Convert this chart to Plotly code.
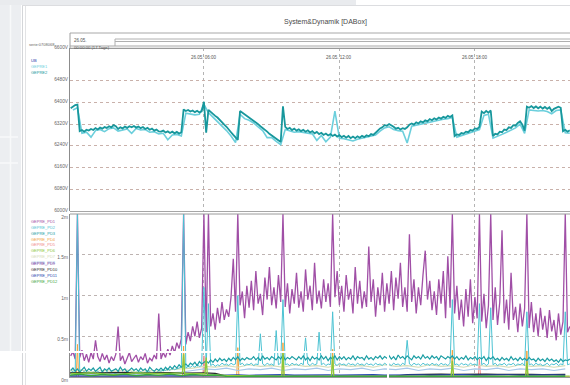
import numpy as np
import pandas as pd
import plotly.graph_objects as go

DAY = "2009-05-26"

# ---------------- data ----------------
# dense logger series sampled every 0.1 h starting 00:06
gepre2_v = [
    6378, 6384, 6390, 6392, 6294, 6298, 6292, 6299, 6296, 6302,
    6298, 6305, 6300, 6307, 6303, 6309, 6306, 6312, 6308, 6316,
    6312, 6302, 6308, 6304, 6311, 6306, 6312, 6308, 6313, 6307,
    6311, 6305, 6309, 6302, 6306, 6299, 6303, 6296, 6300, 6293,
    6292, 6296, 6289, 6293, 6287, 6292, 6286, 6291, 6285, 6290,
    6374, 6368, 6372, 6366, 6370, 6364, 6369, 6363, 6367, 6402,
    6288, 6372, 6364, 6358, 6350, 6344, 6334, 6328, 6318, 6310,
    6298, 6290, 6280, 6272, 6262, 6368, 6362, 6358, 6350, 6346,
    6338, 6334, 6326, 6320, 6312, 6306, 6298, 6292, 6284, 6278,
    6270, 6266, 6258, 6254, 6385, 6310, 6302, 6306, 6298, 6303,
    6296, 6301, 6294, 6299, 6292, 6297, 6289, 6294, 6286, 6291,
    6283, 6288, 6280, 6285, 6278, 6283, 6276, 6281, 6274, 6279,
    6272, 6277, 6270, 6276, 6268, 6274, 6268, 6275, 6270, 6277,
    6272, 6279, 6275, 6283, 6280, 6290, 6296, 6304, 6308, 6316,
    6314, 6320, 6316, 6310, 6303, 6306, 6300, 6305, 6302, 6308,
    6318, 6322, 6318, 6326, 6322, 6330, 6326, 6334, 6330, 6338,
    6334, 6341, 6337, 6344, 6340, 6347, 6343, 6350, 6346, 6352,
    6276, 6282, 6280, 6287, 6285, 6292, 6290, 6298, 6296, 6304,
    6302, 6310, 6366, 6360, 6368, 6362, 6370, 6276, 6284, 6282,
    6292, 6290, 6300, 6298, 6308, 6306, 6316, 6314, 6324, 6330,
    6318, 6296, 6384, 6380, 6386, 6379, 6385, 6378, 6384, 6377,
    6383, 6376, 6382, 6368, 6376, 6381, 6384, 6380, 6294, 6299,
    6292, 6297,
]

# sampled every 0.2 h
gepre1_v = [
    6372, 6380, 6286, 6290, 6272, 6296, 6300, 6292, 6303, 6306,
    6294, 6298, 6302, 6286, 6304, 6298, 6300, 6290, 6292, 6284,
    6286, 6262, 6280, 6282, 6276, 6360, 6358, 6354, 6356, 6392,
    6362, 6346, 6330, 6312, 6296, 6276, 6252, 6356, 6340, 6334,
    6324, 6310, 6296, 6270, 6270, 6256, 6244, 6300, 6294, 6290,
    6292, 6290, 6286, 6284, 6260, 6278, 6255, 6272, 6368, 6268,
    6266, 6262, 6258, 6264, 6268, 6270, 6274, 6280, 6294, 6306,
    6310, 6300, 6296, 6294, 6250, 6312, 6316, 6320, 6324, 6328,
    6332, 6335, 6338, 6340, 6344, 6272, 6278, 6284, 6290, 6296,
    6300, 6352, 6356, 6268, 6274, 6282, 6290, 6298, 6306, 6320,
    6286, 6372, 6370, 6368, 6370, 6366, 6358, 6370, 6372, 6288,
    6286,
]

# bottom panel, values in "m" units, every 0.1 h
pd1_v = [
    0.26, 0.31, 0.22, 2.0, 0.24, 0.33, 0.2, 0.28, 0.18, 0.3,
    0.22, 0.45, 0.25, 0.19, 0.29, 0.21, 0.27, 0.17, 0.25, 0.2,
    0.28, 0.62, 0.2, 0.26, 0.16, 0.24, 0.3, 0.19, 0.23, 0.27,
    0.18, 0.25, 0.21, 0.29, 0.17, 0.23, 0.2, 0.27, 0.22, 0.78,
    0.22, 0.3, 0.24, 0.34, 0.27, 0.38, 0.3, 0.42, 0.35, 0.47,
    2.0, 0.4, 0.55, 0.44, 0.62, 0.5, 0.68, 0.48, 0.6, 2.0,
    0.55, 2.0, 0.62, 0.78, 0.58, 0.85, 0.66, 0.92, 0.7, 0.83,
    0.74, 0.98, 1.45, 0.8, 2.0, 0.88, 1.05, 0.72, 1.12, 0.85,
    1.18, 0.82, 1.3, 0.9, 1.02, 0.76, 1.22, 0.95, 1.35, 0.88,
    1.1, 0.84, 1.25, 0.92, 2.0, 0.86, 1.15, 0.78, 1.08, 0.9,
    1.28, 0.85, 1.05, 0.8, 1.32, 0.95, 1.12, 0.82, 1.4, 0.9,
    1.06, 0.84, 1.2, 0.92, 1.15, 0.86, 2.0, 0.98, 1.3, 0.88,
    1.12, 0.8, 1.25, 0.95, 1.08, 0.78, 1.35, 0.9, 1.18, 0.84,
    1.05, 0.86, 1.6, 0.92, 1.2, 0.74, 1.1, 0.88, 1.28, 0.8,
    1.15, 0.9, 1.3, 0.82, 1.22, 0.96, 1.4, 0.86, 1.1, 0.8,
    1.75, 0.92, 1.2, 0.78, 1.1, 0.88, 1.25, 1.55, 0.95, 1.18,
    0.82, 1.05, 0.76, 1.2, 0.9, 1.3, 0.72, 1.48, 0.85, 2.0,
    0.78, 1.12, 0.7, 0.95, 0.62, 1.08, 0.74, 1.2, 0.66, 0.98,
    0.72, 2.0, 0.68, 1.02, 0.6, 0.88, 2.0, 0.7, 1.1, 0.64,
    0.92, 1.8, 0.66, 0.95, 0.58, 1.28, 0.7, 0.86, 0.55, 0.9,
    0.62, 0.84, 2.0, 0.6, 0.92, 0.55, 0.78, 0.5, 0.85, 0.58,
    0.75, 0.48, 0.82, 0.56, 0.7, 0.45, 0.78, 0.52, 0.68, 2.0,
    0.55, 0.62,
]

pd2_v = [
    0.05, 0.07, 0.04, 2.0, 0.06, 0.05, 0.07, 0.04, 0.06, 0.05,
    0.06, 0.04, 0.07, 0.05, 0.06, 0.04, 0.07, 0.05, 0.06, 0.05,
    0.04, 0.07, 0.05, 0.06, 0.04, 0.07, 0.05, 0.06, 0.04, 0.06,
    0.05, 0.07, 0.04, 0.06, 0.05, 0.07, 0.04, 0.06, 0.05, 0.08,
    0.07, 0.09, 0.08, 0.1, 0.08, 0.11, 0.09, 0.1, 0.11, 0.12,
    2.0, 0.11, 0.13, 0.12, 0.14, 0.12, 0.15, 0.13, 0.14, 1.1,
    0.13, 0.9, 0.14, 0.16, 0.13, 0.15, 0.14, 0.17, 0.15, 0.16,
    0.14, 0.17, 0.15, 0.16, 1.0, 0.15, 0.17, 0.14, 0.16, 0.15,
    0.17, 0.14, 0.16, 0.15, 0.53, 0.16, 0.14, 0.17, 0.15, 0.16,
    0.14, 0.57, 0.15, 0.17, 0.95, 0.15, 0.16, 0.14, 0.17, 0.15,
    0.16, 0.14, 0.17, 0.15, 0.48, 0.16, 0.14, 0.17, 0.15, 0.16,
    0.55, 0.15, 0.17, 0.14, 0.16, 0.15, 0.8, 0.16, 0.14, 0.17,
    0.15, 0.16, 0.14, 0.17, 0.15, 0.16, 0.14, 0.17, 0.15, 0.16,
    0.14, 0.17, 0.15, 0.16, 0.14, 0.17, 0.15, 0.16, 0.14, 0.17,
    0.15, 0.16, 0.14, 0.17, 0.15, 0.16, 0.14, 0.17, 0.15, 0.45,
    0.16, 0.14, 0.17, 0.15, 0.16, 0.14, 0.17, 0.15, 0.16, 0.14,
    0.17, 0.15, 0.16, 0.14, 0.17, 0.15, 0.16, 0.14, 0.17, 0.95,
    0.15, 0.16, 0.14, 0.17, 0.15, 0.16, 0.14, 0.17, 0.15, 0.16,
    0.14, 0.9, 0.15, 0.17, 0.14, 0.16, 0.85, 0.15, 0.17, 0.14,
    0.16, 0.15, 0.17, 0.14, 0.16, 0.15, 0.17, 0.14, 0.16, 0.15,
    0.17, 0.14, 0.8, 0.15, 0.16, 0.14, 0.17, 0.15, 0.16, 0.14,
    0.15, 0.17, 0.14, 0.16, 0.15, 0.17, 0.14, 0.16, 0.15, 0.8,
    0.15, 0.16,
]

pd3_v = [
    0.08, 0.11, 0.07, 0.1, 0.06, 0.09, 0.12, 0.07, 0.1, 0.08,
    0.11, 0.07, 0.09, 0.12, 0.06, 0.1, 0.08, 0.11, 0.07, 0.09,
    0.1, 0.07, 0.12, 0.08, 0.1, 0.06, 0.09, 0.11, 0.08, 0.1,
    0.07, 0.11, 0.08, 0.1, 0.06, 0.12, 0.09, 0.07, 0.1, 0.08,
    0.11, 0.08, 0.12, 0.09, 0.13, 0.1, 0.14, 0.11, 0.15, 0.12,
    0.14, 0.16, 0.13, 0.17, 0.15, 0.18, 0.14, 0.19, 0.16, 0.18,
    0.2, 0.17, 0.21, 0.18, 0.22, 0.19, 0.23, 0.2, 0.22, 0.19,
    0.23, 0.2, 0.24, 0.21, 0.25, 0.2, 0.23, 0.21, 0.24, 0.22,
    0.22, 0.25, 0.21, 0.24, 0.2, 0.26, 0.22, 0.24, 0.21, 0.25,
    0.23, 0.21, 0.25, 0.22, 0.27, 0.21, 0.24, 0.22, 0.25, 0.23,
    0.21, 0.25, 0.22, 0.26, 0.21, 0.24, 0.2, 0.25, 0.22, 0.24,
    0.21, 0.26, 0.22, 0.25, 0.2, 0.24, 0.22, 0.26, 0.21, 0.25,
    0.22, 0.25, 0.21, 0.24, 0.22, 0.26, 0.21, 0.25, 0.23, 0.24,
    0.21, 0.26, 0.22, 0.24, 0.21, 0.25, 0.23, 0.26, 0.22, 0.25,
    0.23, 0.26, 0.22, 0.25, 0.21, 0.27, 0.23, 0.25, 0.22, 0.26,
    0.24, 0.21, 0.26, 0.23, 0.25, 0.22, 0.27, 0.23, 0.25, 0.22,
    0.26, 0.23, 0.25, 0.21, 0.26, 0.24, 0.22, 0.25, 0.23, 0.26,
    0.22, 0.25, 0.21, 0.24, 0.22, 0.26, 0.21, 0.24, 0.22, 0.25,
    0.21, 0.24, 0.22, 0.25, 0.2, 0.24, 0.22, 0.25, 0.21, 0.23,
    0.2, 0.24, 0.21, 0.23, 0.2, 0.25, 0.21, 0.23, 0.2, 0.24,
    0.21, 0.23, 0.2, 0.24, 0.21, 0.22, 0.19, 0.23, 0.2, 0.22,
    0.19, 0.23, 0.2, 0.22, 0.19, 0.21, 0.18, 0.22, 0.19, 0.21,
    0.2, 0.22,
]

# sparse event series (hours, values)
pd4_t = [0.1, 0.35, 0.4, 0.45, 5.05, 5.1, 5.15, 7.45, 7.5, 7.55, 9.45, 9.5, 9.55,
         11.65, 11.7, 11.75, 16.95, 17.0, 17.05, 20.25, 20.3, 20.35, 22.2]
pd4_v = [0.0, 0.0, 0.4, 0.0, 0.0, 0.38, 0.0, 0.0, 0.36, 0.0, 0.0, 0.42, 0.0,
         0.0, 0.34, 0.0, 0.0, 0.33, 0.0, 0.0, 0.32, 0.0, 0.0]
pd5_t = [0.1, 5.95, 6.0, 6.05, 18.15, 18.2, 18.25, 22.2]
pd5_v = [0.0, 0.0, 0.26, 0.0, 0.0, 0.22, 0.0, 0.0]
pd6_t = [0.1, 1.0, 2.0, 3.0, 4.0, 5.0, 5.05, 5.1, 5.15, 6.0, 6.05, 6.1, 6.15, 7.0,
         9.45, 9.5, 9.55, 11.65, 11.7, 11.75, 14.0, 16.95, 17.0, 17.05, 20.25, 20.3, 20.35, 22.2]
pd6_v = [0.04, 0.05, 0.03, 0.05, 0.04, 0.05, 0.05, 0.28, 0.04, 0.04, 0.04, 0.24, 0.03, 0.02,
         0.01, 0.3, 0.01, 0.01, 0.26, 0.01, 0.01, 0.01, 0.2, 0.01, 0.01, 0.18, 0.01, 0.01]

# slow series sampled every 0.5 h from 00:00
pd7_v = [0.07, 0.09, 0.06, 0.08, 0.07, 0.09, 0.06, 0.08, 0.07, 0.09, 0.1,
         0.11, 0.13, 0.12, 0.14, 0.12, 0.15, 0.13, 0.14, 0.12, 0.15, 0.13, 0.14,
         0.12, 0.15, 0.13, 0.14, 0.12, 0.15, 0.13, 0.14, 0.12, 0.15, 0.13, 0.14,
         0.12, 0.15, 0.13, 0.14, 0.12, 0.15, 0.13, 0.14, 0.12, 0.14]
pd8_v = [0.04, 0.05, 0.03, 0.05, 0.04, 0.05, 0.03, 0.05, 0.04, 0.05, 0.06,
         0.08, 0.1, 0.09, 0.11, 0.08, 0.1, 0.09, 0.11, 0.08, 0.1, 0.09, 0.11,
         0.08, 0.1, 0.09, 0.11, 0.08, 0.1, 0.09, 0.11, 0.08, 0.1, 0.09, 0.11,
         0.08, 0.1, 0.09, 0.11, 0.08, 0.1, 0.09, 0.1, 0.08, 0.1]
pd10_v = [0.05, 0.055, 0.048, 0.053, 0.05, 0.056, 0.049, 0.054, 0.05, 0.055, 0.048, 0.053, 0.05, 0.045,
          0.012, 0.008, 0.011, 0.007, 0.01, 0.008, 0.012, 0.009, 0.011, 0.008, 0.01, 0.012, 0.009, 0.011, 0.008, 0.01,
          0.03, 0.035, 0.032, 0.036, 0.031, 0.034, 0.03, 0.036, 0.032, 0.035, 0.031, 0.034, 0.03, 0.033, 0.032]
pd11_v = [0.012, 0.01, 0.014, 0.011, 0.013, 0.01, 0.012, 0.014, 0.011, 0.013, 0.012, 0.014, 0.012, 0.015,
          0.022, 0.026, 0.02, 0.025, 0.021, 0.027, 0.022, 0.025, 0.02, 0.026, 0.022, 0.025, 0.021, 0.027, 0.022, 0.025,
          0.02, 0.026, 0.022, 0.025, 0.021, 0.027, 0.022, 0.025, 0.02, 0.026, 0.022, 0.025, 0.021, 0.024, 0.022]
pd12_v = [0.02, 0.035, 0.015, 0.03, 0.02, 0.035, 0.015, 0.03, 0.02, 0.035, 0.018, 0.03, 0.02, 0.025,
          0.008, 0.004, 0.01, 0.005, 0.009, 0.003, 0.008, 0.005, 0.01, 0.004, 0.008, 0.005, 0.009, 0.004, 0.008, 0.005,
          0.01, 0.004, 0.008, 0.005, 0.009, 0.003, 0.008, 0.005, 0.01, 0.004, 0.008, 0.005, 0.009, 0.004, 0.008]

top_names = ["UB", "GEPRE1", "GEPRE2"]
pd_names = ["GEPRE_PD%d" % i for i in range(1, 13)]
volt_ticks = [6000, 6080, 6160, 6240, 6320, 6400, 6480, 6600]
volt_labels = ["%dV" % v for v in volt_ticks]
pd_ticks = [0, 0.5, 1, 1.5, 2]
pd_labels = ["0m", "0.5m", "1m", "1.5m", "2m"]
time_ticks_h = [6, 12, 18]
time_labels = ["26.05. 06:00", "26.05. 12:00", "26.05. 18:00"]

# ---------------- helpers ----------------
base = pd.Timestamp(DAY)


def ts(hours):
    return base + pd.to_timedelta(np.asarray(hours, dtype=float), unit="h")


t10 = [round(0.1 * (i + 1), 2) for i in range(len(pd1_v))]
t20 = [round(0.2 * (i + 1), 2) for i in range(len(gepre1_v))]
t50 = [0.5 * i for i in range(len(pd7_v))]

C = {
    "UB": "#2234a8", "GEPRE1": "#6ccfdc", "GEPRE2": "#17979c",
    "PD1": "#a04fa6", "PD2": "#4cc3d3", "PD3": "#1c9ea4", "PD4": "#f0a23c",
    "PD5": "#f08a8a", "PD6": "#8cc83a", "PD7": "#d4dcb8", "PD8": "#a8c8ea",
    "PD9": "#7a3c9c", "PD10": "#2a2a2a", "PD11": "#2646b0", "PD12": "#3aa640",
}
pd_colors = [C["PD%d" % i] for i in range(1, 13)]

fig = go.Figure()

# top panel
fig.add_trace(go.Scatter(x=ts(t20), y=gepre1_v, mode="lines", line=dict(color=C["GEPRE1"], width=1.6),
                         xaxis="x2", yaxis="y2", showlegend=False))
fig.add_trace(go.Scatter(x=ts(t10[:len(gepre2_v)]), y=gepre2_v, mode="lines",
                         line=dict(color=C["GEPRE2"], width=1.8), xaxis="x2", yaxis="y2", showlegend=False))


# bottom panel
def add_pd(t, v, col, w=1.0):
    fig.add_trace(go.Scatter(x=ts(t), y=v, mode="lines", line=dict(color=col, width=w),
                             xaxis="x", yaxis="y", showlegend=False))


add_pd(t10, pd1_v, C["PD1"], 1.3)
add_pd(pd4_t, pd4_v, C["PD4"])
add_pd(pd5_t, pd5_v, C["PD5"])
add_pd(t50, pd7_v, C["PD7"], 1.2)
add_pd(t50, pd8_v, C["PD8"], 1.2)
add_pd(t10[:len(pd2_v)], pd2_v, C["PD2"], 1.0)
add_pd(t10[:len(pd3_v)], pd3_v, C["PD3"], 1.2)
add_pd(t50, pd10_v, C["PD10"], 1.2)
add_pd(t50, pd11_v, C["PD11"], 1.4)
add_pd(pd6_t, pd6_v, C["PD6"], 1.3)
add_pd(t50, pd12_v, C["PD12"], 1.4)

# ---------------- layout ----------------
L, T, B, R = 70, 48, 8, 0
W, H = 570, 385
PH = H - T - B  # plot height in px
PW = W - L - R


def px(xp):
    return (xp - L) / PW


def py(yp):
    return (H - B - yp) / PH


top_dom = [py(211), 1.0]
bot_dom = [0.0, py(214)]

FONT = "Liberation Sans, Arial, sans-serif"
tickfont = dict(family=FONT, size=4.8, color="#666666")
grid_top = "#c9b1aa"
grid_bot = "#bdb3b1"
xr = [ts([0.07])[0], ts([22.21])[0]]

fig.update_layout(
    width=W, height=H,
    margin=dict(l=L, r=R, t=T, b=B, pad=0),
    paper_bgcolor="white", plot_bgcolor="white",
    font=dict(family=FONT, color="#555555"),
    showlegend=False,
    xaxis=dict(domain=[0, 1], anchor="y", type="date", range=xr,
               tickvals=list(ts(time_ticks_h)), showticklabels=False, ticks="",
               showgrid=True, gridcolor="#b4b4b4", griddash="dot", gridwidth=1,
               zeroline=False, showline=True, linecolor="#9a9a9a", linewidth=1),
    xaxis2=dict(domain=[0, 1], anchor="y2", type="date", matches="x", range=xr,
                tickvals=list(ts(time_ticks_h)), showticklabels=False, ticks="",
                showgrid=True, gridcolor="#b4b4b4", griddash="dot", gridwidth=1,
                zeroline=False, showline=False),
    yaxis=dict(domain=bot_dom, anchor="x", range=[0, 2], tickvals=pd_ticks, ticktext=pd_labels,
               tickfont=tickfont, ticks="", showgrid=True, gridcolor=grid_bot, griddash="dot",
               ticklabelshift=3,
               zeroline=False, showline=True, linecolor="#8c8c8c", linewidth=1),
    yaxis2=dict(domain=top_dom, anchor="x2", range=[6000, 6600], tickvals=volt_ticks, ticktext=volt_labels,
                tickfont=tickfont, ticks="", showgrid=True, gridcolor=grid_top, griddash="dot",
                ticklabelshift=-1,
                zeroline=False, showline=True, linecolor="#8c8c8c", linewidth=1),
)

shapes = []


def rect(x0, y0, x1, y1, fill, layer="below"):
    shapes.append(dict(type="rect", xref="paper", yref="paper", x0=px(x0), x1=px(x1), y0=py(y1), y1=py(y0),
                       fillcolor=fill, line=dict(width=0), layer=layer))


def hline(x0, x1, y, col="#9c9c9c", w=1, layer="above"):
    shapes.append(dict(type="line", xref="paper", yref="paper", x0=px(x0), x1=px(x1), y0=py(y), y1=py(y),
                       line=dict(color=col, width=w), layer=layer))


def vline(x, y0, y1, col="#9c9c9c", w=1, layer="above"):
    shapes.append(dict(type="line", xref="paper", yref="paper", x0=px(x), x1=px(x), y0=py(y0), y1=py(y1),
                       line=dict(color=col, width=w), layer=layer))


# page background pieces
rect(0, 0, 356, 5, "#e9ebee")
rect(0, 5, 21, 352, "#eceef1")
vline(10.5, 5, 352, "#f8f9fa", 1.5, "below")
hline(0, 18, 137, "#f8f9fa", 1.5, "below")
hline(0, 18, 163, "#f8f9fa", 1.5, "below")
vline(22.5, 5, 385, "#d4d6d9", 1)
vline(25.5, 5, 385, "#e2e3e5", 1)
hline(22, 570, 5.5, "#dcdde0", 1)

# header box
hline(70, 570, 33, "#a8a8a8", 1)
hline(115, 570, 39, "#b0b0b0", 1)
hline(115, 570, 41.5, "#b0b0b0", 1)
vline(115, 39, 46, "#b0b0b0", 1)
vline(70, 33, 48, "#a0a0a0", 1)
hline(70, 570, 46, "#a8a8a8", 1)
hline(70, 570, 48.3, "#9a9a9a", 1.2)
# panel separators
hline(70, 570, 211.5, "#a6a6a6", 1)
hline(70, 570, 214, "#9a9a9a", 1)
# white overlay edges of the photographed page
hline(0, 388, 352, "white", 2)
vline(388, 352, 385, "white", 2)

fig.update_layout(shapes=shapes)

ann = []
small = dict(family=FONT, size=4.5, color="#555555")
ann.append(dict(text="System&Dynamik [DABox]", x=px(325), y=py(16), xref="paper", yref="paper",
                showarrow=False, font=dict(family=FONT, size=7, color="#4a4a4a")))
ann.append(dict(text="serie:0708068", x=px(27), y=py(40), xref="paper", yref="paper", xanchor="left",
                showarrow=False, font=dict(family=FONT, size=4, color="#666")))
ann.append(dict(text="26.05.", x=px(72), y=py(36), xref="paper", yref="paper", xanchor="left",
                showarrow=False, font=small))
ann.append(dict(text="00:00:00 (17 Tage)", x=px(72), y=py(42.8), xref="paper", yref="paper", xanchor="left",
                showarrow=False, font=dict(family=FONT, size=4.2, color="#555555")))
for h, lab in zip(time_ticks_h, time_labels):
    ann.append(dict(text=lab, x=ts([h])[0], y=py(52.5), xref="x2", yref="paper",
                    showarrow=False, font=small))

for i, name in enumerate(top_names):
    ann.append(dict(text=name, x=px(29), y=py(56 + 6 * i), xref="paper", yref="paper", xanchor="left",
                    showarrow=False, font=dict(family=FONT, size=4, color=C[name])))
for i, name in enumerate(pd_names):
    ann.append(dict(text=name, x=px(29), y=py(221.7 + 5.8 * i), xref="paper", yref="paper", xanchor="left",
                    showarrow=False, font=dict(family=FONT, size=4, color=pd_colors[i])))
fig.update_layout(annotations=ann)

# the page is shown edge to edge, without the browser's default body margin
fig.write_html("out.html", config={"displayModeBar": False},
               post_script="document.body.style.margin='0';")
